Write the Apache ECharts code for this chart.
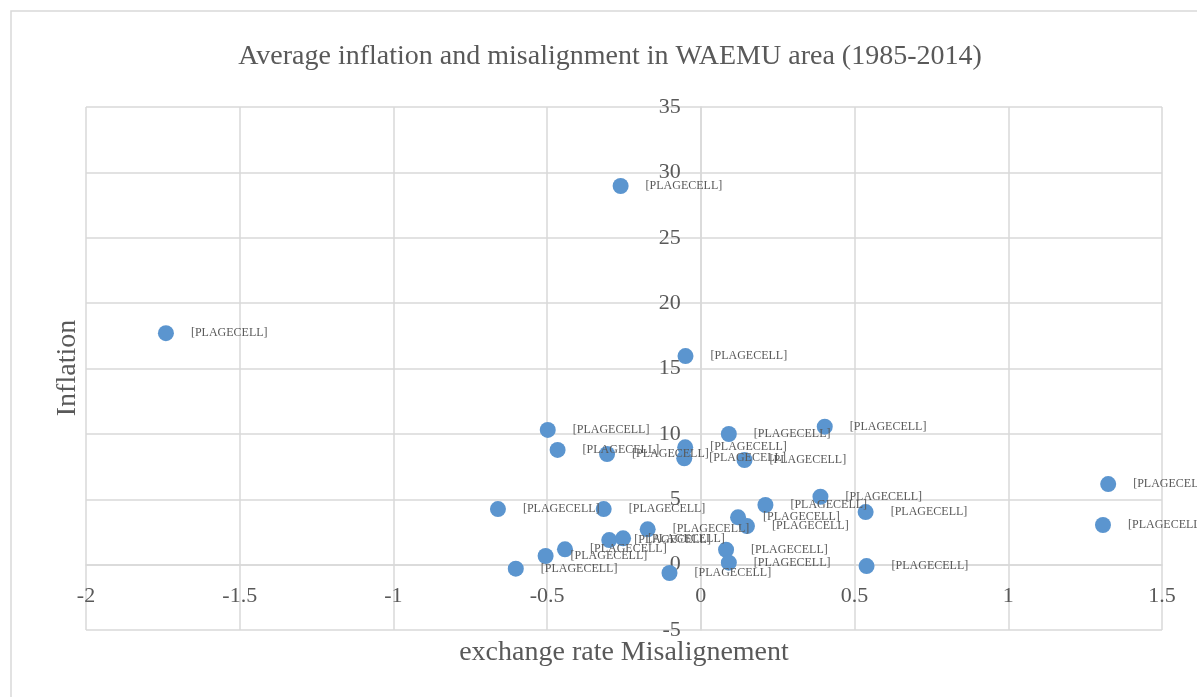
<!DOCTYPE html>
<html>
<head>
<meta charset="utf-8">
<script src="https://cdn.jsdelivr.net/npm/echarts@6/dist/echarts.min.js"></script>
<style>
    html, body { margin: 0; padding: 0; background: #fff; }
    #chart { width: 1197px; height: 697px; }
</style>
</head>
<body>
<div id="chart"></div>
<script>
// misalignment (x) et inflation (y), 1985-2014
var misalign = [-0.261, -1.740, -0.050, -0.498, 0.091, 0.403, -0.466, -0.305, -0.051, -0.054,
    0.142, 1.325, 0.389, 0.210, 0.536, -0.660, -0.316, 0.121, 0.150, 1.308,
    -0.173, -0.298, -0.253, -0.442, -0.505, 0.082, -0.602, -0.102, 0.091, 0.539];
var inflation = [28.96, 17.70, 15.95, 10.30, 9.99, 10.55, 8.77, 8.46, 8.97, 8.13,
    8.00, 6.16, 5.19, 4.56, 4.02, 4.25, 4.25, 3.62, 2.95, 3.03,
    2.70, 1.88, 2.01, 1.17, 0.66, 1.14, -0.31, -0.64, 0.15, -0.11];
var pointLabels = [];
for (var i = 0; i < misalign.length; i++) {
    pointLabels.push('[PLAGECELL]');
}
var xTicks = [-2, -1.5, -1, -0.5, 0, 0.5, 1, 1.5];
var yTicks = [-5, 0, 5, 10, 15, 20, 25, 30, 35];

var serif = 'Liberation Serif';
var grey = '#595959';
var lineGrey = '#d9d9d9';

// zone de tracé
var W = 1197, H = 697;
var gLeft = 86, gRight = 35, gTop = 107, gBottom = 67;
var xMin = xTicks[0], xMax = xTicks[xTicks.length - 1];
var yMin = yTicks[0], yMax = yTicks[yTicks.length - 1];
// axes qui se croisent en 0 (comme excel)
var xAxisOffset = -(0 - yMin) / (yMax - yMin) * (H - gTop - gBottom);
var yAxisOffset = -(0 - xMin) / (xMax - xMin) * (W - gLeft - gRight);

var points = [];
for (var j = 0; j < misalign.length; j++) {
    points.push({ value: [misalign[j], inflation[j]], name: pointLabels[j] });
}

var myChart = echarts.init(document.getElementById('chart'));
var option = {
    backgroundColor: '#fff',
    animation: false,
    title: {
        text: 'Average inflation and misalignment in WAEMU area (1985-2014)',
        left: 605,
        top: 38,
        textAlign: 'center',
        textStyle: { fontFamily: serif, fontSize: 28, fontWeight: 'normal', color: grey }
    },
    graphic: [{
        type: 'rect',
        shape: { x: 11, y: 11, width: 1300, height: 1000 },
        style: { fill: 'none', stroke: lineGrey, lineWidth: 1.5 },
        silent: true
    }, {
        // titre vertical
        type: 'text',
        x: 68,
        y: 368,
        rotation: Math.PI / 2,
        style: {
            text: 'Inflation',
            fontFamily: serif,
            fontSize: 28,
            fill: grey,
            align: 'center',
            verticalAlign: 'middle'
        },
        silent: true
    }],
    grid: { left: gLeft, right: gRight, top: gTop, bottom: gBottom, containLabel: false, outerBoundsMode: 'none' },
    xAxis: {
        type: 'value',
        min: xMin,
        max: xMax,
        interval: 0.5,
        position: 'bottom',
        offset: xAxisOffset,
        name: 'exchange rate Misalignement',
        nameLocation: 'middle',
        nameGap: 74,
        nameTextStyle: { fontFamily: serif, fontSize: 28, color: grey },
        axisLine: { onZero: false, lineStyle: { color: lineGrey, width: 1.5 } },
        axisTick: { show: false },
        axisLabel: { fontFamily: serif, fontSize: 22, color: grey, margin: 21 },
        splitLine: { lineStyle: { color: lineGrey, width: 1.5 } }
    },
    yAxis: {
        type: 'value',
        min: yMin,
        max: yMax,
        interval: 5,
        position: 'left',
        offset: yAxisOffset,
        axisLine: { onZero: false, lineStyle: { color: lineGrey, width: 1.5 } },
        axisTick: { show: false },
        axisLabel: { fontFamily: serif, fontSize: 22, color: grey, margin: 20 },
        splitLine: { lineStyle: { color: lineGrey, width: 1.5 } }
    },
    series: [{
        type: 'scatter',
        data: points,
        symbolSize: 16,
        itemStyle: { color: '#5b95cf', opacity: 1 },
        label: {
            show: true,
            position: 'right',
            distance: 17,
            formatter: '{b}',
            fontFamily: serif,
            fontSize: 12,
            color: grey
        }
    }]
};
myChart.setOption(option);
</script>
</body>
</html>
